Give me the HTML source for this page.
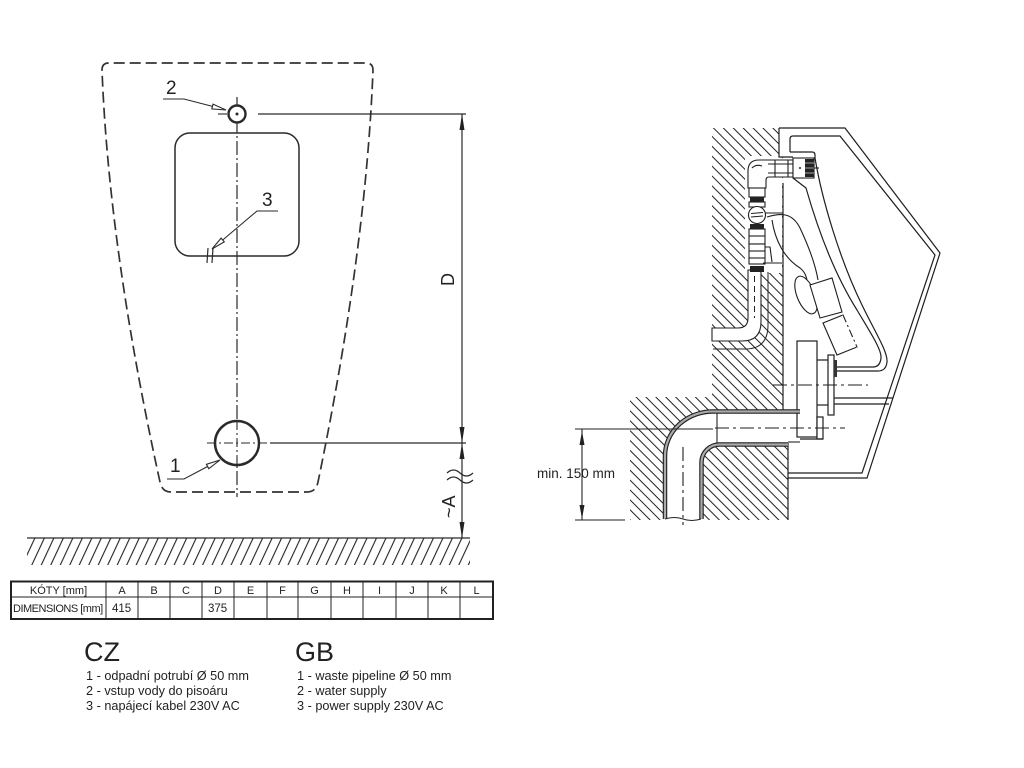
<!DOCTYPE html>
<html><head><meta charset="utf-8"><style>
html,body{margin:0;padding:0;background:#fff;}
svg{display:block;}
text{font-family:"Liberation Sans",Arial,sans-serif;fill:#222;}
</style></head><body>
<svg width="1024" height="768" viewBox="0 0 1024 768" xmlns="http://www.w3.org/2000/svg">
<defs>
<pattern id="hb" patternUnits="userSpaceOnUse" width="7" height="20" patternTransform="rotate(-45)">
<line x1="1" y1="0" x2="1" y2="20" stroke="#222" stroke-width="1"/>
</pattern>
<pattern id="hg" patternUnits="userSpaceOnUse" width="8.6" height="20" patternTransform="rotate(25)">
<line x1="1" y1="0" x2="1" y2="20" stroke="#222" stroke-width="1.1"/>
</pattern>
</defs>
<rect width="1024" height="768" fill="#fff"/>

<!-- ===== LEFT FRONT VIEW ===== -->
<g fill="none" stroke="#2a2a2a">
<path d="M102,70 Q102,63 109,63 L366,63 Q373,63 373,70 Q366,250 318,482 Q316,492 307,492 L171,492 Q162,492 160,482 Q109,250 102,70 Z" stroke="#333" stroke-width="1.7" stroke-dasharray="11 5"/>
<line x1="237" y1="97" x2="237" y2="497" stroke-width="1.2" stroke-dasharray="14 3 2 3"/>
<rect x="175" y="133" width="124" height="123" rx="15" stroke-width="1.5"/>
<circle cx="237" cy="114" r="8.5" stroke-width="2.4" fill="#fff"/>
<circle cx="237" cy="114" r="1" fill="#222"/>
<line x1="218" y1="114" x2="227" y2="114" stroke-width="1.1"/>
<line x1="258" y1="114" x2="466" y2="114" stroke-width="1.2"/>
<circle cx="237" cy="443" r="22" stroke-width="2.5" fill="#fff"/>
<line x1="207" y1="443" x2="267" y2="443" stroke-width="1.1" stroke-dasharray="9 3 2 3"/>
<line x1="237" y1="421" x2="237" y2="465" stroke-width="1.1" stroke-dasharray="9 3 2 3"/>
<line x1="270" y1="443" x2="466" y2="443" stroke-width="1.2"/>
<!-- cable symbol -->
<line x1="208" y1="248" x2="207" y2="263" stroke-width="1.2"/>
<line x1="213" y1="248" x2="212" y2="263" stroke-width="1.2"/>
<!-- leaders -->
<path d="M163,99 L184,99 L213,106.5" stroke-width="1.1"/>
<polygon points="226,110 211.8,108.9 213,104.1" fill="#fff" stroke-width="1.1"/>
<path d="M278,211 L257,211 L222.7,240" stroke-width="1.1"/>
<polygon points="212,249 224.3,241.9 221.1,238.1" fill="#fff" stroke-width="1.1"/>
<path d="M167,479 L184,479 L207.6,466.5" stroke-width="1.1"/>
<polygon points="220,460 208.8,468.7 206.4,464.3" fill="#fff" stroke-width="1.1"/>
<!-- dimension line -->
<line x1="462" y1="114" x2="462" y2="538" stroke-width="1.2"/>
<path d="M447,473 q6.5,-6 13,0 t13,0" stroke-width="1.2"/>
<path d="M447,480 q6.5,-6 13,0 t13,0" stroke-width="1.2"/>
<!-- ground -->
<rect x="27" y="538" width="443" height="27" fill="url(#hg)" stroke="none"/>
<line x1="27" y1="538" x2="470" y2="538" stroke-width="1.3"/>
</g>
<g fill="#222">
<polygon points="462,114 459.5,130 464.5,130"/>
<polygon points="462,443 459.5,427 464.5,427"/>
<polygon points="462,443 459.5,459 464.5,459"/>
<polygon points="462,538 459.5,522 464.5,522"/>
</g>
<text x="166" y="94" font-size="19">2</text>
<text x="262" y="206" font-size="19">3</text>
<text x="170" y="472" font-size="19">1</text>
<text x="0" y="0" font-size="18" transform="translate(454,286) rotate(-90)">D</text>
<text x="0" y="0" font-size="18" transform="translate(455,518) rotate(-90)">~A</text>

<!-- ===== TABLE ===== -->
<g stroke="#222" fill="none">
<rect x="11" y="581.5" width="482" height="37.5" stroke-width="2"/>
<line x1="11" y1="597" x2="493" y2="597" stroke-width="1"/>
<g stroke-width="1">
<line x1="106" y1="581" x2="106" y2="619"/>
<line x1="138" y1="581" x2="138" y2="619"/>
<line x1="170" y1="581" x2="170" y2="619"/>
<line x1="202" y1="581" x2="202" y2="619"/>
<line x1="234" y1="581" x2="234" y2="619"/>
<line x1="267" y1="581" x2="267" y2="619"/>
<line x1="298" y1="581" x2="298" y2="619"/>
<line x1="331" y1="581" x2="331" y2="619"/>
<line x1="363" y1="581" x2="363" y2="619"/>
<line x1="396" y1="581" x2="396" y2="619"/>
<line x1="428" y1="581" x2="428" y2="619"/>
<line x1="460" y1="581" x2="460" y2="619"/>
</g>
</g>
<g font-size="11" text-anchor="middle">
<text x="58.5" y="594">KÓTY [mm]</text>
<text x="122" y="594">A</text>
<text x="154" y="594">B</text>
<text x="186" y="594">C</text>
<text x="218" y="594">D</text>
<text x="250.5" y="594">E</text>
<text x="282.5" y="594">F</text>
<text x="314.5" y="594">G</text>
<text x="347" y="594">H</text>
<text x="379.5" y="594">I</text>
<text x="412" y="594">J</text>
<text x="444" y="594">K</text>
<text x="476.5" y="594">L</text>
</g>
<text x="13" y="612" font-size="11" letter-spacing="-0.5">DIMENSIONS [mm]</text>
<text x="112" y="612" font-size="11.5">415</text>
<text x="208" y="612" font-size="11.5">375</text>

<!-- ===== LEGEND ===== -->
<text x="84" y="661" font-size="27" fill="#111">CZ</text>
<text x="295" y="661" font-size="27" fill="#111">GB</text>
<g font-size="12.7">
<text x="86" y="680">1 - odpadní potrubí Ø 50 mm</text>
<text x="86" y="695">2 - vstup vody do pisoáru</text>
<text x="86" y="710">3 - napájecí kabel 230V AC</text>
<text x="297" y="680">1 - waste pipeline Ø 50 mm</text>
<text x="297" y="695">2 - water supply</text>
<text x="297" y="710">3 - power supply 230V AC</text>
</g>

<!-- ===== RIGHT SECTION VIEW ===== -->
<path d="M712,128 L779,128 L779,157 L783,157 L783,410 L715,410 A50,46 0 0 0 665,456 L665,520 L630,520 L630,397 L712,397 Z" fill="url(#hb)"/>
<path d="M703,520 L703,460 A17,17 0 0 1 720,443 L788,443 L788,520 Z" fill="url(#hb)"/>
<rect x="745" y="156" width="37" height="117" fill="#fff"/>
<path d="M768,272 L768,325 Q768,349 745,349 L713,349" fill="none" stroke="#222" stroke-width="1"/>
<path d="M748,270 L748,318 Q748,328 738,328 L712,328 L712,341 L742,341 Q761,341 761,322 L761,270 Z" fill="#fff" stroke="#222" stroke-width="1.1"/>
<line x1="754.5" y1="276" x2="754.5" y2="318" stroke="#222" stroke-width="1" stroke-dasharray="6 4"/>

<g fill="none" stroke="#1e1e1e" stroke-width="1.2">
<line x1="783" y1="183" x2="783" y2="410"/>
<line x1="788" y1="443" x2="788" y2="520"/>
<path d="M779,128 L845,128 L940,253 L867,478 L788,478"/>
<path d="M779,128 L779,157 L793,157"/>
<path d="M790,152 L790,139 Q790,136 793,136 L840,136 L935,255 L862,473 L788,473"/>
<path d="M790,152 L812,152 Q815,152 815,155 L815,158"/>
<path d="M815,158 C822,200 840,260 862,305 C875,332 888,352 887,362 Q886,371 878,371 L837,371"/>
<path d="M793,178 L806,188 C818,230 835,275 857,310 C870,332 882,350 881,358 Q880,367 873,367 L837,367"/>
<line x1="834" y1="398" x2="893" y2="398"/>
<line x1="834" y1="404" x2="889" y2="404"/>
<rect x="797" y="341" width="20" height="96" fill="#fff"/>
<rect x="817" y="417" width="6" height="22" fill="#fff"/>
<line x1="800" y1="439" x2="823" y2="439"/>
<line x1="817" y1="360" x2="828" y2="360"/>
<line x1="817" y1="405" x2="828" y2="405"/>
<rect x="828" y="355" width="6" height="60" fill="#fff"/>
</g>
<rect x="834" y="360" width="3" height="17" fill="#333"/>
<g fill="none" stroke="#1e1e1e" stroke-width="1.1" stroke-dasharray="14 4 3 4">
<line x1="773" y1="385" x2="868" y2="385"/>
<line x1="715" y1="428" x2="845" y2="428"/>
<line x1="683" y1="447" x2="683" y2="525"/>
</g>

<g fill="none">
<path d="M800,411.5 L715,411.5 A48,44.5 0 0 0 665,456 L665,519" stroke="#222" stroke-width="4.5"/>
<path d="M800,411.5 L715,411.5 A48,44.5 0 0 0 665,456 L665,519" stroke="#aaa" stroke-width="2.2"/>
<path d="M788,444.5 L720,444.5 A18,18 0 0 0 701.5,462 L701.5,519" stroke="#222" stroke-width="4.5"/>
<path d="M788,444.5 L720,444.5 A18,18 0 0 0 701.5,462 L701.5,519" stroke="#aaa" stroke-width="2.2"/>
<line x1="717" y1="413" x2="717" y2="443" stroke="#222" stroke-width="1.1"/>
<line x1="788" y1="442" x2="800" y2="442" stroke="#222" stroke-width="1.1"/>
<path d="M665,519 q9.5,-3 18,0 t18,0" stroke="#222" stroke-width="1.1"/>
</g>

<g fill="#fff" stroke="#1e1e1e" stroke-width="1.1">
<path d="M748,188 L748,171 Q748,160 759,160 L793,160 L793,177 L769,177 Q766,177 766,180 L766,188 Z"/>
<line x1="768" y1="164" x2="793" y2="164"/>
<line x1="768" y1="173" x2="793" y2="173"/>
<line x1="775" y1="160" x2="775" y2="177"/>
<line x1="788" y1="160" x2="788" y2="177"/>
<path d="M752,168 Q756,164 762,166" fill="none"/>
<rect x="793" y="158" width="21" height="20"/>
<line x1="814" y1="168" x2="819" y2="168"/>
<rect x="749" y="188" width="16" height="9"/>
<rect x="749" y="202" width="16" height="5"/>
<circle cx="757" cy="215" r="8.5"/>
<line x1="751" y1="213.5" x2="763" y2="212.5"/>
<line x1="751" y1="217" x2="763" y2="216"/>
<rect x="749" y="229" width="16" height="15"/>
<line x1="749" y1="236" x2="765" y2="236"/>
<rect x="749" y="244" width="16" height="20"/>
<line x1="749" y1="251" x2="765" y2="251"/>
<line x1="749" y1="258" x2="765" y2="258"/>
<path d="M765,247 L770,247 L772,262 M763,263 L782,263 M765,213 L783,213" fill="none"/>
<path d="M767,217 C780,213 792,212 800,228 C808,245 815,262 818,280" fill="none"/>
<path d="M772,220 C775,240 784,258 800,268 C805,272 806,276 807,280" fill="none"/>
<ellipse cx="806" cy="295" rx="9" ry="20" transform="rotate(-22 806 295)"/>
<polygon points="810,285 832,278 842,312 820,318"/>
<polygon points="823,323 843,315 857,347 837,355"/>
</g>
<line x1="843" y1="315" x2="857" y2="347" stroke="#fff" stroke-width="2"/>
<line x1="843" y1="315" x2="857" y2="347" stroke="#1e1e1e" stroke-width="1.1" stroke-dasharray="8 3 2 3"/>
<g fill="#222">
<rect x="805" y="159" width="9" height="18"/>
<circle cx="800" cy="168" r="1"/>
<rect x="750" y="197" width="14" height="5"/>
<rect x="750" y="224" width="14" height="5"/>
<rect x="750" y="266" width="14" height="6"/>
</g>
<g stroke="#fff" stroke-width="0.6">
<line x1="805" y1="163" x2="814" y2="163"/>
<line x1="805" y1="168" x2="814" y2="168"/>
<line x1="805" y1="173" x2="814" y2="173"/>
</g>

<g stroke="#222" stroke-width="1.1" fill="none">
<line x1="575" y1="429" x2="713" y2="429"/>
<line x1="575" y1="520" x2="625" y2="520"/>
<line x1="582" y1="429" x2="582" y2="520"/>
</g>
<polygon points="582,431 579.5,445 584.5,445" fill="#222"/>
<polygon points="582,519 579.5,505 584.5,505" fill="#222"/>
<text x="537" y="478" font-size="13.5">min. 150 mm</text>
</svg>
</body></html>
